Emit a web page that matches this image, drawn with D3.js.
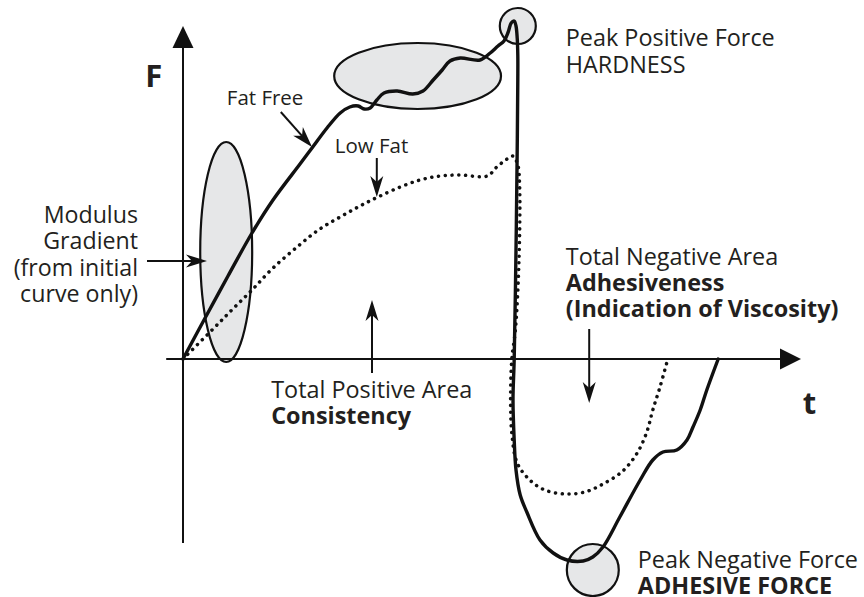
<!DOCTYPE html>
<html><head><meta charset="utf-8">
<script src="https://cdn.jsdelivr.net/npm/d3@7"></script>
<style>
html,body{margin:0;padding:0;background:#fff;}
svg text{font-family:"Open Sans",sans-serif;fill:#231f20;}
</style></head><body>
<svg id="chart" width="864" height="597"></svg>
<script>
// ---- Data (time t, force F) ----
const fatFree = [
 [0,0],[0.35,0.78],[0.75,1.66],[1.15,2.52],[1.5,3.18],[1.95,3.9],[2.15,4.22],[2.4,4.62],[2.62,4.92],
 [2.78,5.04],[2.92,5.06],[3.02,5.0],[3.12,5.02],[3.23,5.18],[3.35,5.32],[3.57,5.36],[3.83,5.3],[4.0,5.36],
 [4.17,5.58],[4.32,5.78],[4.45,5.96],[4.62,6.02],[4.95,5.98],[5.12,6.12],[5.25,6.26],[5.35,6.36],[5.42,6.54],
 [5.47,6.72],[5.52,6.76],[5.55,6.66],[5.57,6.42],[5.58,6.08],[5.58,5.58],[5.57,4.18],[5.55,2.18],[5.52,0],
 [5.5,-0.82],[5.52,-1.62],[5.55,-2.22],[5.62,-2.72],[5.73,-3.06],[5.95,-3.62],[6.17,-3.88],[6.4,-4.02],
 [6.67,-4.04],[6.83,-3.96],[7.0,-3.76],[7.28,-3.16],[7.62,-2.42],[7.83,-2.02],[8.0,-1.86],[8.23,-1.82],
 [8.4,-1.62],[8.5,-1.36],[8.62,-1.02],[8.73,-0.62],[8.92,0]
];
const lowFat = [
 [0,0],[0.5,0.6],[0.83,1.0],[1.15,1.38],[1.5,1.82],[1.92,2.26],[2.28,2.6],[2.62,2.84],[2.95,3.06],
 [3.25,3.24],[3.62,3.44],[3.95,3.58],[4.28,3.66],[4.62,3.68],[5.07,3.66],[5.23,3.84],[5.4,4.0],[5.5,4.06],
 [5.58,3.88],[5.61,3.48],[5.6,1.98],[5.54,0.58],[5.48,0],[5.46,-0.82],[5.48,-1.48],[5.57,-2.08],[5.78,-2.42],
 [6.03,-2.62],[6.37,-2.7],[6.7,-2.66],[7.0,-2.5],[7.33,-2.24],[7.57,-1.88],[7.73,-1.46],[7.83,-1.02],
 [7.95,-0.56],[8.08,0]
];
const seriesNames = ["Fat Free","Low Fat"];
const axisLabels = ["F","t"];

// ---- Annotation geometry (data units) ----
const regions = [
 {name:"modulus", t:0.72, F:2.14, rt:0.433, rF:2.2},
 {name:"plateau", t:3.91, F:5.66, rt:1.39, rF:0.66},
 {name:"peakPos", t:5.58, F:6.66, rt:0.3, rF:0.36},
 {name:"peakNeg", t:6.83, F:-4.22, rt:0.433, rF:0.52}
];
const pointers = [
 [[1.63,4.94],[2.15,4.24]],
 [[3.23,4.02],[3.23,3.24]],
 [[-0.6,1.96],[0.4,1.96]],
 [[3.15,-0.28],[3.15,1.18]],
 [[6.77,0.6],[6.77,-0.88]]
];
const notes = [
 {t:-0.63, F:5.44, anchor:"start", size:31, lh:0, lines:[["F",true]]},
 {t:10.33, F:-1.1, anchor:"start", size:31, lh:0, lines:[["t",true]]},
 {t:0.73, F:5.08, anchor:"start", size:20.5, lh:0, lines:[["Fat Free",false]]},
 {t:2.53, F:4.12, anchor:"start", size:20.5, lh:0, lines:[["Low Fat",false]]},
 {t:-0.75, F:2.72, anchor:"end", size:23.2, lh:26.4, lines:[["Modulus",false],["Gradient",false],["(from initial",false],["curve only)",false]]},
 {t:6.38, F:6.26, anchor:"start", size:23.4, lh:27, lines:[["Peak Positive Force",false],["HARDNESS",false]]},
 {t:6.38, F:1.88, anchor:"start", size:23.4, lh:26, lines:[["Total Negative Area",false],["Adhesiveness",true],["(Indication of Viscosity)",true]]},
 {t:1.47, F:-0.78, anchor:"start", size:23.4, lh:26, lines:[["Total Positive Area",false],["Consistency",true]]},
 {t:7.58, F:-4.18, anchor:"start", size:23.4, lh:25.5, lines:[["Peak Negative Force",false],["ADHESIVE FORCE",true]]}
];
const tAxisRange = [-0.28, 10.3];
const FAxisRange = [-3.68, 6.66];

// ---- Scales ----
const x = d3.scaleLinear().domain([0,10]).range([183,783]);
const y = d3.scaleLinear().domain([0,6]).range([359,59]);
const svg = d3.select("#chart");
const ink = "#111";

// shaded regions
svg.append("g").selectAll("ellipse").data(regions).join("ellipse")
  .attr("cx",d=>x(d.t)).attr("cy",d=>y(d.F))
  .attr("rx",d=>x(d.rt)-x(0)).attr("ry",d=>y(0)-y(d.rF))
  .attr("fill","#e6e7e8").attr("stroke",ink).attr("stroke-width",2.2);

// axes
const ax = svg.append("g");
ax.append("line").attr("x1",x(tAxisRange[0])).attr("x2",x(tAxisRange[1])-18)
  .attr("y1",y(0)).attr("y2",y(0)).attr("stroke",ink).attr("stroke-width",2);
ax.append("line").attr("x1",x(0)).attr("x2",x(0))
  .attr("y1",y(FAxisRange[0])).attr("y2",y(FAxisRange[1])+18).attr("stroke",ink).attr("stroke-width",2);
const tx = x(tAxisRange[1]), ty = y(0);
ax.append("path").attr("d",`M${tx},${ty}L${tx-21},${ty-10.5}L${tx-21},${ty+10.5}Z`).attr("fill",ink);
const fx = x(0), fy = y(FAxisRange[1]);
ax.append("path").attr("d",`M${fx},${fy}L${fx-10.5},${fy+22}L${fx+10.5},${fy+22}Z`).attr("fill",ink);

// curves
const line = d3.line().x(d=>x(d[0])).y(d=>y(d[1])).curve(d3.curveCatmullRom.alpha(0.5));
svg.append("path").datum(lowFat).attr("d",line).attr("fill","none").attr("stroke",ink)
  .attr("stroke-width",3.5).attr("stroke-linecap","round").attr("stroke-dasharray","0.1 6.7");
svg.append("path").datum(fatFree).attr("d",line).attr("fill","none").attr("stroke",ink)
  .attr("stroke-width",3.4).attr("stroke-linejoin","round").attr("stroke-linecap","round");

// pointer arrows
const pg = svg.append("g");
pointers.forEach(p=>{
  const x0=x(p[0][0]), y0=y(p[0][1]), x1=x(p[1][0]), y1=y(p[1][1]);
  const dx=x1-x0, dy=y1-y0, len=Math.hypot(dx,dy), ux=dx/len, uy=dy/len, nx=-uy, ny=ux;
  const L=21, W=6.5, N=15;
  pg.append("line").attr("x1",x0).attr("y1",y0).attr("x2",x1-ux*N).attr("y2",y1-uy*N)
    .attr("stroke",ink).attr("stroke-width",2);
  const bx=x1-ux*L, by=y1-uy*L;
  pg.append("path").attr("d",`M${x1},${y1}L${bx+nx*W},${by+ny*W}L${x1-ux*N},${y1-uy*N}L${bx-nx*W},${by-ny*W}Z`)
    .attr("fill",ink);
});

// text
notes.forEach(n=>{
  const t = svg.append("text").attr("x",x(n.t)).attr("y",y(n.F)).attr("text-anchor",n.anchor)
    .style("font-size",n.size+"px");
  n.lines.forEach((l,i)=>{
    t.append("tspan").attr("x",x(n.t)).attr("dy",i===0?0:n.lh)
      .style("font-weight",l[1]?700:400).text(l[0]);
  });
});
</script>
</body></html>
